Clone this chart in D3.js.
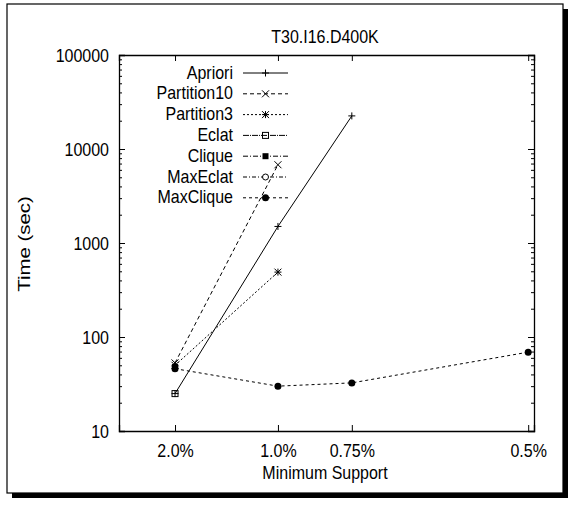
<!DOCTYPE html>
<html>
<head>
<meta charset="utf-8">
<script src="https://cdn.jsdelivr.net/npm/d3@7"></script>
<style>
  body { margin: 0; background: #fff; }
  text { font-family: "Liberation Sans", Arial, Helvetica, sans-serif; fill: #000; }
</style>
</head>
<body>
<svg width="574" height="509"></svg>
<script>
// minimum support categories (plotted x position in gnuplot units)
const supportLabels = ["2.0%", "1.0%", "0.75%", "0.5%"];
const supportX = [13.5, 38.3, 56.1, 98.6];

// time in seconds, null = not run
const apriori     = [25, 1500, 22500, null];
const partition10 = [53, 6800, null, null];
const partition3  = [50, 490, null, null];
const eclat       = [25, null, null, null];
const clique      = [48, null, null, null];
const maxEclat    = [null, null, null, null];
const maxClique   = [46, 30, 32.5, 69];

const yTicks = [10, 100, 1000, 10000, 100000];

const series = [
  { name: "Apriori",     values: apriori,     dash: null,        mark: "plus" },
  { name: "Partition10", values: partition10, dash: "4,3",       mark: "cross" },
  { name: "Partition3",  values: partition3,  dash: "2,2",       mark: "star" },
  { name: "Eclat",       values: eclat,       dash: "6,1,1,1",   mark: "box" },
  { name: "Clique",      values: clique,      dash: "5,2,1,2",   mark: "boxf" },
  { name: "MaxEclat",    values: maxEclat,    dash: "4,2,1,2",   mark: "circ" },
  { name: "MaxClique",   values: maxClique,   dash: "3,3",       mark: "circf" }
];

const svg = d3.select("svg");
const stretch = "scale(1,1.2)";

// frame with drop shadow
svg.append("rect").attr("x", 12).attr("y", 9).attr("width", 556).attr("height", 489).attr("fill", "#000");
svg.append("rect").attr("x", 7).attr("y", 4).attr("width", 556).attr("height", 489)
  .attr("fill", "#fff").attr("stroke", "#000").attr("stroke-width", 1.2);

const plotL = 119, plotR = 534, plotT = 55, plotB = 431;

let x = d3.scaleLinear().domain([0, 100]).range([plotL, plotR]);
let y = d3.scaleLog().domain([10, 100000]).range([plotB, plotT]);

let minor = [];
yTicks.slice(0, -1).forEach(t => { for (let k = 2; k < 10; k++) minor.push(t * k); });

// left axis
svg.append("g").attr("transform", `translate(${plotL},0)`)
  .call(d3.axisLeft(y).tickValues(yTicks).tickFormat(d3.format("d")).tickSize(-6).tickPadding(10))
  .call(g => g.selectAll("text").attr("font-size", 16).attr("transform", stretch));
svg.append("g").attr("transform", `translate(${plotL},0)`)
  .call(d3.axisLeft(y).tickValues(minor).tickFormat("").tickSize(-3))
  .call(g => g.select(".domain").remove());
// right mirror
svg.append("g").attr("transform", `translate(${plotR},0)`)
  .call(d3.axisRight(y).tickValues(yTicks).tickFormat("").tickSize(-6));
svg.append("g").attr("transform", `translate(${plotR},0)`)
  .call(d3.axisRight(y).tickValues(minor).tickFormat("").tickSize(-3))
  .call(g => g.select(".domain").remove());

// bottom axis
svg.append("g").attr("transform", `translate(0,${plotB})`)
  .call(d3.axisBottom(x).tickValues(supportX).tickFormat((d, i) => supportLabels[i]).tickSize(-6).tickPadding(10))
  .call(g => g.selectAll("text").attr("font-size", 16).attr("transform", stretch));
svg.append("g").attr("transform", `translate(0,${plotT})`)
  .call(d3.axisTop(x).tickValues(supportX).tickFormat("").tickSize(-6));

svg.selectAll(".domain").attr("stroke-width", 1.3);

// titles
svg.append("text").attr("transform", `translate(325,43) ${stretch}`)
  .attr("text-anchor", "middle").attr("font-size", 16).text("T30.I16.D400K");
svg.append("text").attr("transform", `translate(325,479) ${stretch}`)
  .attr("text-anchor", "middle").attr("font-size", 16).text("Minimum Support");
svg.append("text").attr("transform", "translate(30,244) rotate(-90) scale(1.2,1)")
  .attr("text-anchor", "middle").attr("font-size", 17).text("Time (sec)");

function marker(g, type) {
  const s = 3.5;
  if (type === "plus") g.append("path").attr("d", `M${-s},0H${s}M0,${-s}V${s}`).attr("stroke", "#000");
  if (type === "cross") g.append("path").attr("d", `M${-s},${-s}L${s},${s}M${-s},${s}L${s},${-s}`).attr("stroke", "#000");
  if (type === "star") g.append("path").attr("d", `M${-s},0H${s}M0,${-s}V${s}M${-s},${-s}L${s},${s}M${-s},${s}L${s},${-s}`).attr("stroke", "#000");
  if (type === "box") g.append("rect").attr("x", -3).attr("y", -3).attr("width", 6).attr("height", 6).attr("fill", "none").attr("stroke", "#000");
  if (type === "boxf") g.append("rect").attr("x", -3).attr("y", -3).attr("width", 6).attr("height", 6).attr("fill", "#000");
  if (type === "circ") g.append("circle").attr("r", 3).attr("fill", "#fff").attr("stroke", "#000");
  if (type === "circf") g.append("circle").attr("r", 3.5).attr("fill", "#000");
}

let line = d3.line()
  .defined(d => d[1] != null)
  .x(d => x(d[0]))
  .y(d => y(d[1]));

series.forEach(s => {
  let pts = supportX.map((v, i) => [v, s.values[i]]);
  svg.append("path").datum(pts)
    .attr("d", line)
    .attr("fill", "none")
    .attr("stroke", "#000")
    .attr("stroke-width", 1)
    .attr("stroke-dasharray", s.dash);
  pts.filter(p => p[1] != null).forEach(p => {
    marker(svg.append("g").attr("transform", `translate(${x(p[0])},${y(p[1])})`), s.mark);
  });
});

// legend
const legend = svg.append("g");
series.forEach((s, i) => {
  let ly = 73 + i * 20.8;
  legend.append("text").attr("transform", `translate(233,${ly + 5.5}) ${stretch}`)
    .attr("text-anchor", "end").attr("font-size", 16).text(s.name);
  legend.append("line").attr("x1", 243).attr("x2", 288).attr("y1", ly).attr("y2", ly)
    .attr("stroke", "#000").attr("stroke-dasharray", s.dash);
  marker(legend.append("g").attr("transform", `translate(265.5,${ly})`), s.mark);
});
</script>
</body>
</html>
